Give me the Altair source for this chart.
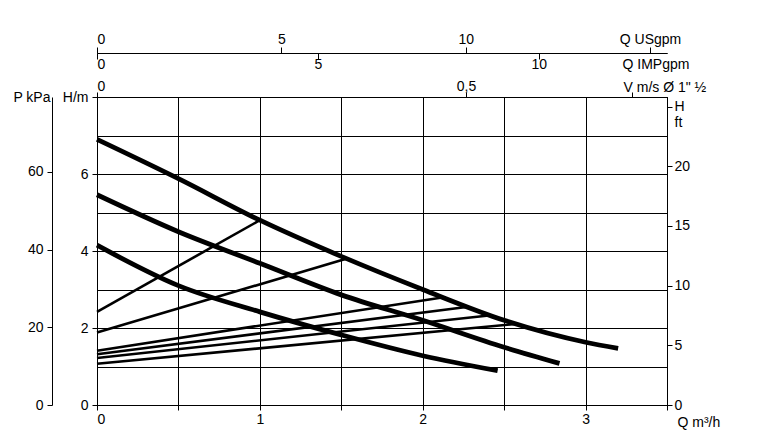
import altair as alt
import pandas as pd

# ---- pump curves (Q in m3/h, H in m) ----
curve1_q = [0, 0.5, 1.0, 1.5, 2.0, 2.5, 3.0, 3.2]
curve1_h = [6.9, 5.88, 4.8, 3.86, 3.0, 2.2, 1.63, 1.47]
curve2_q = [0, 0.5, 1.0, 1.5, 2.0, 2.5, 2.84]
curve2_h = [5.46, 4.5, 3.68, 2.86, 2.2, 1.5, 1.08]
curve3_q = [0, 0.5, 1.0, 1.5, 2.0, 2.46]
curve3_h = [4.15, 3.1, 2.42, 1.82, 1.28, 0.89]

# ---- thin straight lines: start at Q=0, end on top curve ----
sys_start_h = [2.42, 1.88, 1.41, 1.32, 1.22, 1.07]
sys_end_q = [1.0, 1.53, 2.13, 2.28, 2.42, 2.58]
sys_end_h = [4.8, 3.8, 2.8, 2.55, 2.33, 2.11]

# ---- axis ticks / ranges ----
q_ticks = [0, 0.5, 1, 1.5, 2, 2.5, 3, 3.5]
h_ticks = [0, 1, 2, 3, 4, 5, 6, 7, 8]
kpa_ticks = [0, 20, 40, 60]
ft_ticks = [0, 5, 10, 15, 20, 25]
usgpm_ticks = [0, 5, 10, 15]
impgpm_ticks = [0, 5, 10]
v_ticks = [0, 0.5, 0.725]

q_range = [0, 3.5]
h_range = [0, 8]
kpa_range = [0, 79.3]
ft_range = [0, 25.8]
usgpm_range = [0, 15.46]
impgpm_range = [0, 12.9]
v_range = [0, 0.7724]

FONT = "Liberation Sans"

rows = []
for name, qs, hs in [("c1", curve1_q, curve1_h), ("c2", curve2_q, curve2_h), ("c3", curve3_q, curve3_h)]:
    for i, (q, h) in enumerate(zip(qs, hs)):
        rows.append({"series": name, "kind": "pump", "Q": q, "H": h, "o": i})
for i, (h0, q1, h1) in enumerate(zip(sys_start_h, sys_end_q, sys_end_h)):
    rows.append({"series": f"s{i}", "kind": "system", "Q": 0.0, "H": h0, "o": 0})
    rows.append({"series": f"s{i}", "kind": "system", "Q": q1, "H": h1, "o": 1})
df = pd.DataFrame(rows)

lines = alt.Chart(df).mark_line(interpolate="monotone", color="black").encode(
    x=alt.X("Q:Q", scale=alt.Scale(domain=q_range, nice=False, zero=False),
            axis=alt.Axis(values=q_ticks, grid=True, title="Q m³/h",
                          labelExpr="datum.value % 1 == 0 ? format(datum.value, 'd') : ''",
                          titleX=580, titleY=17, titleAlign="left", titleBaseline="middle",
                          titleAngle=0)),
    y=alt.Y("H:Q", scale=alt.Scale(domain=h_range, nice=False),
            axis=alt.Axis(values=h_ticks, grid=True, title=None, labelPadding=4,
                          labelExpr="datum.value == 8 ? 'H/m' : (datum.value % 2 == 0 ? format(datum.value, 'd') : '')",
                          tickOpacity={"condition": {"test": "datum.value % 2 != 0", "value": 0}, "value": 1})),
    detail="series:N",
    order="o:Q",
    strokeWidth=alt.StrokeWidth("kind:N", scale=alt.Scale(domain=["pump", "system"], range=[4.8, 2.6]), legend=None),
)

kpa_layer = alt.Chart(pd.DataFrame({"kPa": kpa_range})).mark_point(opacity=0).encode(
    y=alt.Y("kPa:Q", scale=alt.Scale(domain=kpa_range, nice=False),
            axis=alt.Axis(orient="left", offset=45, values=kpa_ticks, grid=False, labelPadding=4,
                          title="P kPa", titleAngle=0, titleX=-2, titleY=0, titleAlign="right",
                          titleBaseline="middle"))
)

ft_layer = alt.Chart(pd.DataFrame({"ft": ft_range})).mark_point(opacity=0).encode(
    y=alt.Y("ft:Q", scale=alt.Scale(domain=ft_range, nice=False),
            axis=alt.Axis(orient="right", values=ft_ticks, grid=False, title=None,
                          labelExpr="datum.value == 25 ? ['H', 'ft'] : format(datum.value, 'd')"))
)

v_layer = alt.Chart(pd.DataFrame({"V": v_range})).mark_point(opacity=0).encode(
    x=alt.X("V:Q", scale=alt.Scale(domain=v_range, nice=False),
            axis=alt.Axis(orient="top", offset=0, values=v_ticks, grid=False, labelPadding=-1,
                          labelExpr="datum.value == 0 ? '0' : (datum.value == 0.5 ? '0,5' : '')",
                          title='V m/s Ø 1" ½', titleX=526, titleY=-10, titleAlign="left",
                          titleBaseline="middle", titleAngle=0))
)

us_layer = alt.Chart(pd.DataFrame({"US": usgpm_range})).mark_point(opacity=0).encode(
    x=alt.X("US:Q", scale=alt.Scale(domain=usgpm_range, nice=False),
            axis=alt.Axis(orient="top", offset=44, values=usgpm_ticks, grid=False, tickSize=6,
                          labelPadding=1, title=None,
                          labelExpr="datum.value == 15 ? 'Q USgpm' : format(datum.value, 'd')"))
)

imp_layer = alt.Chart(pd.DataFrame({"IMP": impgpm_range})).mark_point(opacity=0).encode(
    x=alt.X("IMP:Q", scale=alt.Scale(domain=impgpm_range, nice=False),
            axis=alt.Axis(orient="bottom", offset=-352, values=impgpm_ticks, grid=False, tickSize=6,
                          labelPadding=-2, labelExpr="format(datum.value, 'd')",
                          title="Q IMPgpm", titleX=525, titleY=11, titleAlign="left",
                          titleBaseline="middle", titleAngle=0))
)

chart = alt.layer(lines, kpa_layer, ft_layer, v_layer, us_layer, imp_layer).resolve_scale(
    x="independent", y="independent"
).properties(
    width=570, height=308,
    autosize=alt.AutoSizeParams(type="none"),
    padding={"left": 89, "top": 89, "right": 80, "bottom": 30},
).configure_axis(
    labelFont=FONT, labelFontSize=14, labelColor="black",
    titleFont=FONT, titleFontSize=14, titleFontWeight="normal", titleColor="black",
    domainColor="black", domainWidth=1, tickColor="black", tickWidth=1,
    gridColor="black", gridOpacity=1, gridWidth=1,
).configure_view(stroke="black", strokeWidth=1)

chart.save("out.html", embed_options={"renderer": "svg", "actions": False})
